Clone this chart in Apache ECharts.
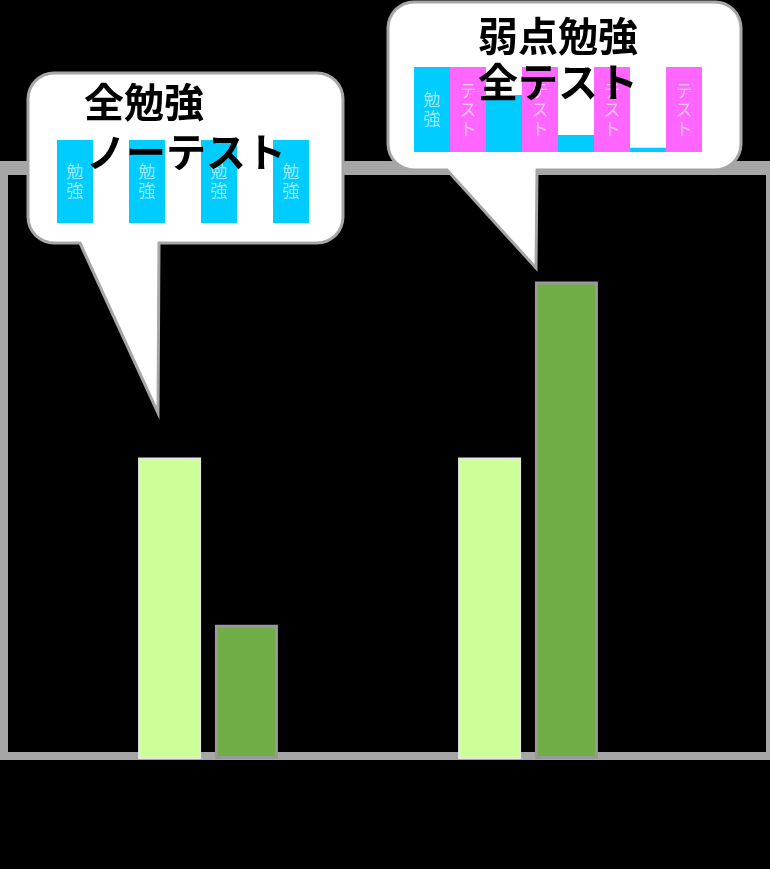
<!DOCTYPE html>
<html>
<head>
<meta charset="utf-8">
<style>
  html, body { margin: 0; padding: 0; background: #000; }
  #main { width: 770px; height: 869px; }
</style>
<script src="https://cdn.jsdelivr.net/npm/echarts@6/dist/echarts.min.js"></script>
</head>
<body>
<div id="main"></div>
<script>
var chartDom = document.getElementById('main');
var myChart = echarts.init(chartDom);
var option;

// main chart
var categories = ['全勉強・ノーテスト', '弱点勉強・全テスト'];
var lightValues = [50.5, 50.5];
var darkValues = [22.5, 80];

// small charts inside the bubbles (4 rounds, study / test share)
var rounds = ['1', '2', '3', '4'];
var studyA = [100, 100, 100, 100];
var testA = [0, 0, 0, 0];
var studyB = [100, 67, 20, 5];
var testB = [100, 100, 100, 100];

var FONT = '"Noto Sans CJK JP", "Noto Sans", sans-serif';
var gray = '#a6a6a6';

// rounded box with a tail on the bottom edge, as polygon points
function bubblePoints(x0, y0, x1, y1, r, tailL, tipX, tipY, tailR) {
    var pts = [];
    function corner(cx, cy, a0) {
        for (var i = 0; i <= 8; i++) {
            var a = (a0 + i * 90 / 8) * Math.PI / 180;
            pts.push([cx + r * Math.cos(a), cy + r * Math.sin(a)]);
        }
    }
    corner(x0 + r, y0 + r, 180);
    corner(x1 - r, y0 + r, 270);
    corner(x1 - r, y1 - r, 0);
    pts.push([tailR, y1], [tipX, tipY], [tailL, y1]);
    corner(x0 + r, y1 - r, 90);
    return pts;
}

function vertLabel(text) {
    return {
        show: true,
        position: 'inside',
        color: 'rgba(255,255,255,0.6)',
        fontSize: 17,
        lineHeight: 19,
        fontFamily: FONT,
        formatter: function (p) {
            return p.value >= 100 ? text.split('').join('\n') : '';
        }
    };
}

function miniSeries(idx, study, test) {
    return [
        {
            name: '勉強',
            type: 'bar',
            xAxisIndex: idx,
            yAxisIndex: idx,
            data: study,
            barGap: '0%',
            barCategoryGap: '0%',
            itemStyle: { color: '#00CCFF' },
            label: vertLabel('勉強'),
            z: 10,
            silent: true
        },
        {
            name: 'テスト',
            type: 'bar',
            xAxisIndex: idx,
            yAxisIndex: idx,
            data: test,
            barGap: '0%',
            barCategoryGap: '0%',
            itemStyle: { color: '#FF66FF' },
            label: vertLabel('テスト'),
            z: 10,
            silent: true
        }
    ];
}

function bigText(x, y, text) {
    return {
        type: 'text',
        left: x,
        top: y,
        z: 20,
        style: {
            text: text,
            fill: '#000',
            font: 'bold 40px ' + FONT
        }
    };
}

option = {
    backgroundColor: '#000',
    animation: false,
    grid: [
        { left: 48, right: 82, top: 162, bottom: 110 },
        { left: 57, width: 288, top: 140, height: 83 },
        { left: 414, width: 288, top: 67, height: 85 }
    ],
    xAxis: [
        {
            gridIndex: 0, type: 'category', data: categories,
            axisLine: { show: false }, axisTick: { show: false }, axisLabel: { show: false }
        },
        {
            gridIndex: 1, type: 'category', data: rounds, show: false
        },
        {
            gridIndex: 2, type: 'category', data: rounds, show: false
        }
    ],
    yAxis: [
        { gridIndex: 0, type: 'value', min: 0, max: 100, show: false },
        { gridIndex: 1, type: 'value', min: 0, max: 100, show: false },
        { gridIndex: 2, type: 'value', min: 0, max: 100, show: false }
    ],
    graphic: [
        // frame
        { type: 'rect', z: 0, shape: { x: 0, y: 161, width: 770, height: 14 }, style: { fill: gray } },
        { type: 'rect', z: 0, shape: { x: 0, y: 161, width: 8, height: 599 }, style: { fill: gray } },
        { type: 'rect', z: 0, shape: { x: 0, y: 752, width: 770, height: 8 }, style: { fill: gray } },
        { type: 'rect', z: 0, shape: { x: 766, y: 161, width: 4, height: 599 }, style: { fill: gray } },
        // speech bubbles
        {
            type: 'polygon', z: 5,
            shape: { points: bubblePoints(28, 73, 343, 243, 26, 80, 158, 413, 159) },
            style: { fill: '#fff', stroke: gray, lineWidth: 3 }
        },
        {
            type: 'polygon', z: 5,
            shape: { points: bubblePoints(388, 2, 741, 170, 26, 447, 536, 268, 537) },
            style: { fill: '#fff', stroke: gray, lineWidth: 3 }
        },
        bigText(84, 82, '全勉強'),
        bigText(86, 132, 'ノーテスト'),
        bigText(478, 16, '弱点勉強'),
        bigText(478, 62, '全テスト')
    ],
    series: [
        {
            name: '学習前',
            type: 'bar',
            data: lightValues,
            barWidth: 63,
            barGap: '22%',
            itemStyle: { color: '#CCFF99', borderColor: '#e6e6e6', borderWidth: 2 },
            z: 3
        },
        {
            name: '学習後',
            type: 'bar',
            data: darkValues,
            barWidth: 63,
            itemStyle: { color: '#70AD47', borderColor: '#999', borderWidth: 3 },
            z: 3
        }
    ].concat(miniSeries(1, studyA, testA), miniSeries(2, studyB, testB))
};

option && myChart.setOption(option);

window.addEventListener('resize', function () {
    myChart.resize();
});
</script>
</body>
</html>
